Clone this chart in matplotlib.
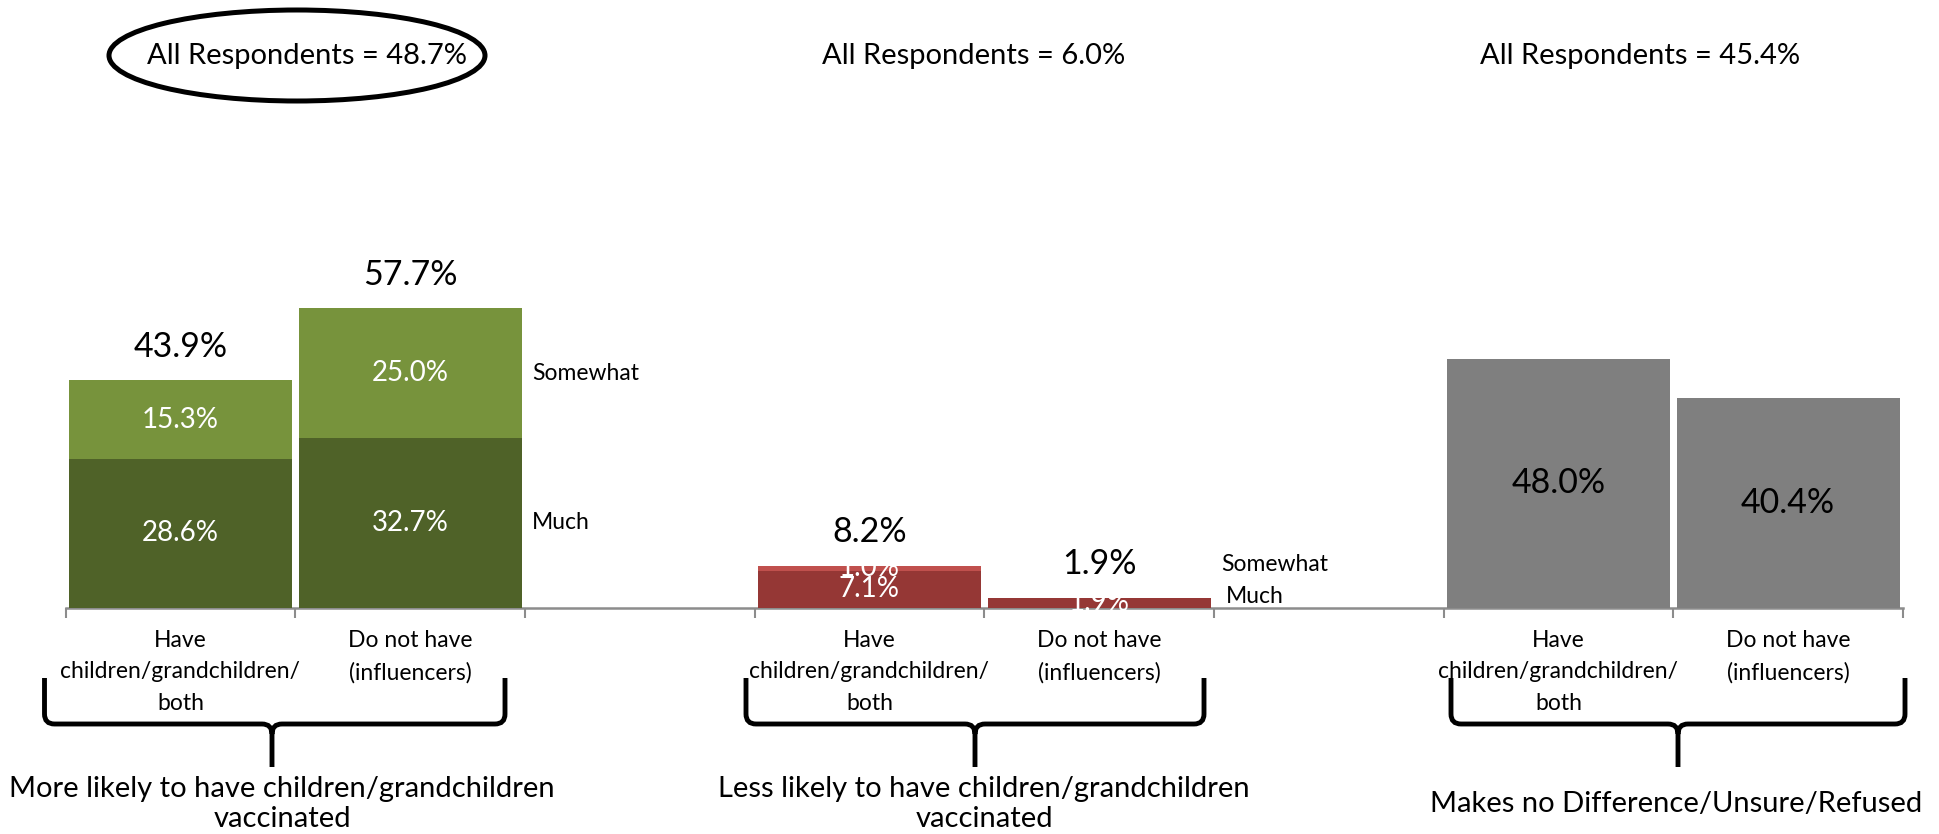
import matplotlib
matplotlib.use("Agg")
import matplotlib.pyplot as plt
from matplotlib.patches import Ellipse, PathPatch
from matplotlib.path import Path
import numpy as np

plt.rcParams['font.family'] = ['Lato', 'DejaVu Sans']

# ---------------- data ----------------
subgroups = ["Have\nchildren/grandchildren/\nboth", "Do not have\n(influencers)"]
group_titles = ["More likely to have children/grandchildren\nvaccinated",
                "Less likely to have children/grandchildren\nvaccinated",
                "Makes no Difference/Unsure/Refused"]
all_respondents = [48.7, 6.0, 45.4]

more_much = [28.6, 32.7]
more_somewhat = [15.3, 25.0]
more_total = [43.9, 57.7]

less_much = [7.1, 1.9]
less_somewhat = [1.0, 0.0]
less_total = [8.2, 1.9]

neutral = [48.0, 40.4]

series_names = ["Much", "Somewhat"]

# ---------------- style ----------------
C_MUCH_G = "#4F6228"
C_SOME_G = "#77933C"
C_MUCH_R = "#953735"
C_SOME_R = "#C0504D"
C_GRAY = "#7F7F7F"
AXIS_C = "#8C8C8C"

W, H = 1940, 834
fig = plt.figure(figsize=(W / 100, H / 100), dpi=100)

ax_left, ax_right = 65.6, 1903.0
ax_base = 607.5
px_per_pct = 5.184
ax = fig.add_axes([ax_left / W, (H - ax_base) / H, (ax_right - ax_left) / W, 100 * px_per_pct / H])
ax.set_facecolor("none")
ax.set_xlim(-0.5, 7.5)
ax.set_ylim(0, 100)

bw = 0.97
x_more = np.array([0, 1])
x_less = np.array([3, 4])
x_neu = np.array([6, 7])

ax.bar(x_more, more_much, width=bw, color=C_MUCH_G, zorder=2)
ax.bar(x_more, more_somewhat, width=bw, bottom=more_much, color=C_SOME_G, zorder=2)
ax.bar(x_less, less_much, width=bw, color=C_MUCH_R, zorder=2)
ax.bar(x_less, less_somewhat, width=bw, bottom=less_much, color=C_SOME_R, zorder=2)
ax.bar(x_neu, neutral, width=bw, color=C_GRAY, zorder=2)

# segment labels
def seg_labels(xs, much, some, color):
    for x, m, s in zip(xs, much, some):
        if m > 0:
            ax.text(x, m / 2, f"{m:.1f}%", ha="center", va="center", color=color, fontsize=20, zorder=4)
        if s > 0:
            ax.text(x, m + s / 2, f"{s:.1f}%", ha="center", va="center", color=color, fontsize=20, zorder=4)

seg_labels(x_more, more_much, more_somewhat, "white")
seg_labels(x_less, less_much, less_somewhat, "white")

for xs, much, some, tot in [(x_more, more_much, more_somewhat, more_total),
                            (x_less, less_much, less_somewhat, less_total)]:
    for x, m, s, t in zip(xs, much, some, tot):
        ax.annotate(f"{t:.1f}%", (x, m + s), xytext=(0, 24), textcoords="offset points",
                    ha="center", va="center", fontsize=24.5, color="black", zorder=4)

for x, v in zip(x_neu, neutral):
    ax.text(x, v / 2, f"{v:.1f}%", ha="center", va="center", fontsize=24.5, color="black", zorder=4)

# series labels to the right of the second bar in each stacked group
xr = x_more[1] + 0.5 + 0.03
ax.text(xr, more_much[1] / 2, series_names[0], ha="left", va="center", fontsize=16.5)
ax.text(xr, more_much[1] + more_somewhat[1] / 2, series_names[1], ha="left", va="center", fontsize=16.5)
xr2 = x_less[1] + 0.5 + 0.03
much_y = max(less_much[1] / 2, 2.15)
some_y = max(less_much[1] + less_somewhat[1] / 2, much_y + 6.2)
ax.text(xr2 + 0.02, much_y, series_names[0], ha="left", va="center", fontsize=16.5)
ax.text(xr2, some_y, series_names[1], ha="left", va="center", fontsize=16.5)

# axis
for sp in ["top", "left", "right"]:
    ax.spines[sp].set_visible(False)
ax.spines["bottom"].set_color(AXIS_C)
ax.spines["bottom"].set_linewidth(1.8)
ax.spines["bottom"].set_zorder(1)
ax.set_yticks([])
labels = subgroups + [""] + subgroups + [""] + subgroups
ax.set_xticks(np.arange(8))
ax.set_xticklabels(labels, fontsize=16.5, linespacing=1.62, va="top")
ax.tick_params(axis="x", which="major", length=0, pad=16)
ax.set_xticks(np.arange(-0.5, 8.0, 1.0), minor=True)
ax.tick_params(axis="x", which="minor", length=7, width=1.5, color=AXIS_C, direction="out")

# ---------------- overlay annotations (pixel space) ----------------
ov = fig.add_axes([0, 0, 1, 1])
ov.set_xlim(0, W)
ov.set_ylim(H, 0)
ov.axis("off")
ov.set_zorder(5)

title_x = [307, 974, 1640]
for tx, v in zip(title_x, all_respondents):
    ov.text(tx, 56, f"All Respondents = {v:.1f}%", ha="center", va="center", fontsize=21)
ov.add_patch(Ellipse((297, 55.5), 376, 91, fill=False, lw=3.6, ec="black"))

def brace(L, R, M, top=678, h=724, tip=767, r=10):
    verts = [(L, top), (L, h - r), (L, h), (L + r, h), (M - r, h), (M, h), (M, h + r), (M, tip),
             (M, h + r), (M, h), (M + r, h), (R - r, h), (R, h), (R, h - r), (R, top)]
    codes = [Path.MOVETO, Path.LINETO, Path.CURVE3, Path.CURVE3, Path.LINETO, Path.CURVE3, Path.CURVE3,
             Path.LINETO, Path.MOVETO, Path.CURVE3, Path.CURVE3, Path.LINETO, Path.CURVE3, Path.CURVE3,
             Path.LINETO]
    ov.add_patch(PathPatch(Path(verts, codes), fill=False, lw=3.5, ec="black", capstyle="butt"))

brace(44.5, 505, 272)
brace(746, 1204, 975)
brace(1451, 1905, 1678)

gt_x = [282, 984, 1676]
for gx, t in zip(gt_x, group_titles):
    ov.text(gx, 804, t, ha="center", va="center", fontsize=21, linespacing=1.22)

fig.savefig("out.png", dpi=100)
